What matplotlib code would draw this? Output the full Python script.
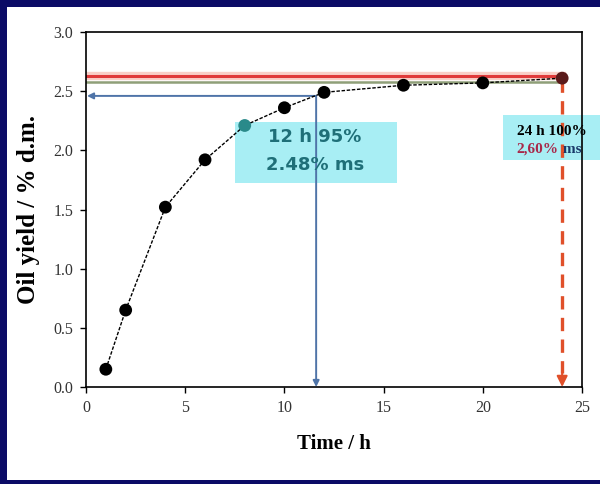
import matplotlib

matplotlib.use("Agg")

import matplotlib.pyplot as plt
import matplotlib.patches as patches

# extraction data
time_h = [1, 2, 4, 6, 8, 10, 12, 16, 20, 24]
oil_yield = [0.15, 0.65, 1.52, 1.92, 2.21, 2.36, 2.49, 2.55, 2.57, 2.61]
point_colors = ["black"] * 4 + ["#2a8a8a"] + ["black"] * 4 + ["#5a1a1a"]

plateau_red = 2.63
plateau_green = 2.58
yield_95 = 2.46
time_95 = 11.6
time_100 = 24
yield_100 = 2.60

x_ticks = [0, 5, 10, 15, 20, 25]
y_ticks = [0.0, 0.5, 1.0, 1.5, 2.0, 2.5, 3.0]

navy = "#0b0b66"
cyan_box = "#a8eef4"
blue = "#4f74a8"
serif = ["Liberation Serif", "DejaVu Serif"]

fig = plt.figure(figsize=(6.0, 4.84), dpi=100, facecolor=navy)
fig.patches.append(patches.Rectangle((7 / 600, 4 / 484), 1, 473 / 484, transform=fig.transFigure,
                                     facecolor="white", edgecolor="none", zorder=-10))
ax = fig.add_axes([86 / 600, 97 / 484, 496 / 600, 355 / 484])
ax.set_facecolor("none")

# annotation boxes
ax.add_patch(patches.Rectangle((7.5, 1.72), 8.2, 0.52, facecolor=cyan_box, edgecolor="none", zorder=0.5))
ax.add_patch(patches.Rectangle((21.0, 1.92), 6.0, 0.38, facecolor=cyan_box, edgecolor="none",
                               zorder=0.5, clip_on=False))

# plateau lines
ax.plot([0, time_100], [plateau_red, plateau_red], color="#f4a090", lw=6, alpha=0.5, zorder=1)
ax.plot([0, time_100], [plateau_green, plateau_green], color="#8f9f78", lw=1.8, zorder=1.5)
ax.plot([0, time_100], [plateau_red, plateau_red], color="#e03a3a", lw=2.2, zorder=2)

# 95 % arrows
ax.annotate("", xy=(0.05, yield_95), xytext=(time_95, yield_95),
            arrowprops=dict(arrowstyle="-|>", color=blue, lw=1.4, mutation_scale=9,
                            shrinkA=0, shrinkB=0), zorder=2)
ax.annotate("", xy=(time_95, 0.0), xytext=(time_95, yield_95),
            arrowprops=dict(arrowstyle="-|>", color=blue, lw=1.4, mutation_scale=9,
                            shrinkA=0, shrinkB=0), zorder=2)

# 100 % dashed arrow
ax.plot([time_100, time_100], [yield_100, 0.12], color="#e0502a", lw=2.4, ls=(0, (4, 2.5)), zorder=2)
ax.annotate("", xy=(time_100, 0.0), xytext=(time_100, 0.15),
            arrowprops=dict(arrowstyle="-|>", color="#e0502a", lw=1.5, mutation_scale=16,
                            shrinkA=0, shrinkB=0), zorder=2)

# kinetic curve
ax.plot(time_h, oil_yield, color="black", lw=1.0, ls=(0, (2.5, 1.2)), zorder=3)
ax.scatter(time_h, oil_yield, s=85, c=point_colors, zorder=4, edgecolors="none")

# labels in boxes
ax.text(11.55, 2.11, "12 h 95%", ha="center", va="center", fontsize=13, color="#1f6f78",
        family="DejaVu Sans", weight="bold", zorder=5)
ax.text(11.55, 1.88, "2.48% ms", ha="center", va="center", fontsize=13, color="#1f6f78",
        family="DejaVu Sans", weight="bold", zorder=5)
ax.text(21.7, 2.16, "24 h 100%", ha="left", va="center", fontsize=11, color="black",
        family=serif, weight="bold", zorder=5, clip_on=False)
red_txt = ax.text(21.7, 2.01, "2,60%", ha="left", va="center", fontsize=11, color="#a8284a",
                  family=serif, weight="bold", zorder=5, clip_on=False)
ax.annotate(" ms", xy=(1, 0.5), xycoords=red_txt, ha="left", va="center", fontsize=11,
            color="#1a3a6a", family=serif, weight="bold", zorder=5)

ax.set_xlim(0, 25)
ax.set_ylim(0, 3.0)
ax.set_xticks(x_ticks)
ax.set_yticks(y_ticks)
ax.set_yticklabels([f"{v:.1f}" for v in y_ticks])
ax.tick_params(direction="out", length=4, width=1, labelsize=11.5, labelcolor="#333333", pad=5)
for label in ax.get_xticklabels() + ax.get_yticklabels():
    label.set_family(serif)
for spine in ax.spines.values():
    spine.set_linewidth(1.2)

ax.set_xlabel("Time / h", fontsize=15, family=serif, weight="bold", labelpad=13)
ax.set_ylabel("Oil yield / % d.m.", fontsize=18, family=serif, weight="bold", labelpad=10)

fig.savefig("out.png", dpi=100, facecolor=navy)
